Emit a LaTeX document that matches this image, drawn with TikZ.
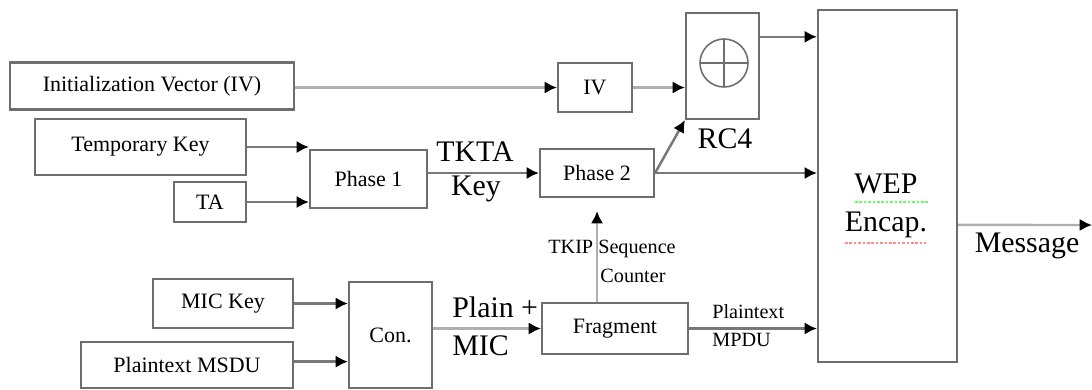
\documentclass[tikz,border=0pt]{standalone}
\usepackage{fontspec}
\setmainfont{Liberation Serif}
\usepackage{tikz}
\usetikzlibrary{arrows.meta}
\usetikzlibrary{calc}
\definecolor{boxgray}{RGB}{110,110,110}
\definecolor{linegray}{RGB}{120,120,120}
\definecolor{lightline}{RGB}{175,175,175}
\newcommand{\drawarrow}{\draw[-{Latex[length=7pt,width=7pt,color=black]}, linegray, line width=1.4pt]}
\newcommand{\boxfont}{\fontsize{12.5}{14}\selectfont}
\newcommand{\labelfont}{\fontsize{17}{19}\selectfont}
\newcommand{\smallfont}{\fontsize{11.5}{13}\selectfont}

\begin{document}
\begin{tikzpicture}[x=0.02cm, y=-0.02cm,
    block/.style={draw=boxgray, line width=1.2pt, fill=white, inner sep=0pt, font=\boxfont}]
    \useasboundingbox (0,0) rectangle (1092,389);

    % Draw blocks
    \node[block, minimum width=5.68cm, minimum height=0.94cm] (ivsrc) at (152,86) {Initialization Vector (IV)};
    \node[block, minimum width=4.22cm, minimum height=1.12cm] (tkey) at (140.5,147) {Temporary Key};
    \node[block, minimum width=1.44cm, minimum height=0.80cm] (ta) at (210,202) {TA};
    \node[block, minimum width=2.34cm, minimum height=1.16cm] (phaseone) at (368.5,179) {Phase 1};
    \node[block, minimum width=2.28cm, minimum height=0.96cm] (phasetwo) at (597,173) {Phase 2};
    \node[block, minimum width=1.48cm, minimum height=0.98cm] (ivbox) at (595,87.5) {IV};
    \node[block, minimum width=1.46cm, minimum height=2.12cm] (rcfour) at (722.5,66) {};
    \node[block, minimum width=2.78cm, minimum height=7.04cm] (wep) at (887.5,186) {};
    \node[block, minimum width=2.80cm, minimum height=0.98cm] (mickey) at (223,303.5) {MIC Key};
    \node[block, minimum width=4.24cm, minimum height=0.92cm] (msdu) at (187,365) {Plaintext MSDU};
    \node[block, minimum width=1.66cm, minimum height=2.12cm] (con) at (390.5,335) {Con.};
    \node[block, minimum width=2.92cm, minimum height=1.02cm] (frag) at (615,328.5) {Fragment};

    % XOR sign in RC4
    \draw[boxgray, line width=0.9pt] (724,63) circle (24);
    \draw[boxgray, line width=0.9pt] (700,63) -- (748,63) (724,39) -- (724,87);

    % WEP text with its spelling marks
    \node[font=\labelfont, align=center, inner sep=0pt] (weptext) at (886,206) {WEP\\[3pt]Encap.};
    \draw[green!60!white, line width=1.5pt, densely dotted] (855,202) -- (928,202);
    \draw[red!45!white, line width=1.5pt, densely dotted] (845,243) -- (926,243);

    % Draw connectors
    \coordinate (rcout) at ($(rcfour.north east)!0.23!(rcfour.south east)$);
    \coordinate (wepout) at ($(wep.north east)!0.61!(wep.south east)$);
    \coordinate (msduout) at ($(msdu.north east)!0.43!(msdu.south east)$);
    \coordinate (msg) at (1092,225);
    \drawarrow[lightline] (ivsrc.east |- ivbox) -- (ivbox.west);
    \drawarrow[lightline] (ivbox.east) -- (ivbox.east -| rcfour.west);
    \drawarrow (tkey.east) -- (tkey.east -| phaseone.west);
    \drawarrow (ta.east) -- (ta.east -| phaseone.west);
    \drawarrow (phaseone.east |- phasetwo) -- (phasetwo.west);
    \drawarrow (phasetwo.east) -- (rcfour.south west);
    \drawarrow (phasetwo.east) -- (phasetwo.east -| wep.west);
    \drawarrow (rcout) -- (rcout -| wep.west);
    \drawarrow[lightline] (wepout) -- (msg);
    \drawarrow (mickey.east) -- (mickey.east -| con.west);
    \drawarrow (msduout) -- (msduout -| con.west);
    \drawarrow[lightline] (con.east |- frag) -- (frag.west);
    \drawarrow[lightline, shorten >=0.26cm] (phasetwo |- frag.north) -- (phasetwo.south);
    \drawarrow (frag.east) -- (frag.east -| wep.west);

    % Connector labels
    \node[font=\labelfont, inner sep=0pt] (tktalbl) at (475,152) {TKTA};
    \node[font=\labelfont, inner sep=0pt] (keylbl) at (476,189) {Key};
    \node[font=\labelfont, inner sep=0pt] (rclbl) at (725,139) {RC4};
    \node[font=\labelfont, inner sep=0pt, anchor=west] (plainlbl) at (452,307) {Plain +};
    \node[font=\labelfont, inner sep=0pt, anchor=west] (miclbl) at (452,346) {MIC};
    \node[font=\smallfont, inner sep=0pt] (seqlbl) at (612,249) {TKIP Sequence};
    \node[font=\smallfont, inner sep=0pt] (ctrlbl) at (633,276) {Counter};
    \node[font=\smallfont, inner sep=0pt, anchor=west] (ptlbl) at (712,312) {Plaintext};
    \node[font=\smallfont, inner sep=0pt, anchor=west] (mpdulbl) at (712,340) {MPDU};
    \node[font=\labelfont, inner sep=0pt] (msglbl) at (1027,246) {Message};
\end{tikzpicture}
\end{document}
